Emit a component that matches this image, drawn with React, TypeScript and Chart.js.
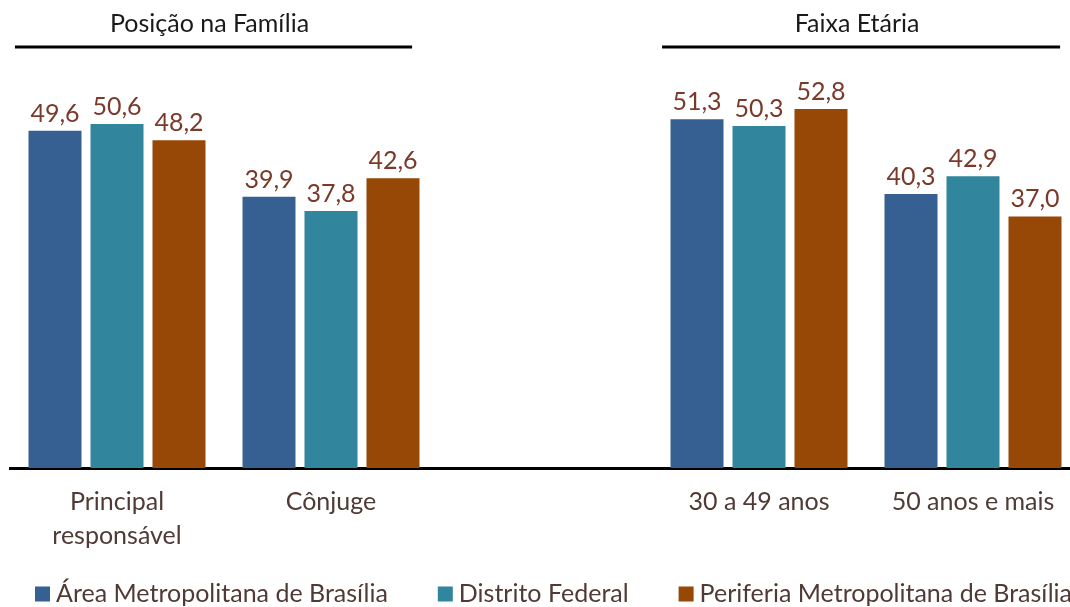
import React, { useEffect, useRef } from "react";
import { Chart, registerables } from "chart.js";

Chart.register(...registerables);

const categories: (string | string[])[] = [
  ["Principal", "responsável"],
  "Cônjuge",
  "",
  "30 a 49 anos",
  "50 anos e mais",
];
const seriesNames = [
  "Área Metropolitana de Brasília",
  "Distrito Federal",
  "Periferia Metropolitana de Brasília",
];
const areaMetropolitana = [49.6, 39.9, null, 51.3, 40.3];
const distritoFederal = [50.6, 37.8, null, 50.3, 42.9];
const periferia = [48.2, 42.6, null, 52.8, 37.0];
const groupTitles = ["Posição na Família", "Faixa Etária"];
const groupRanges = [
  [0, 1],
  [3, 4],
];

const colors = ["#366092", "#31859C", "#974706"];
const FONT = "Lato, 'Open Sans', sans-serif";
const TEXT = "#503a35";

const labelPlugin = {
  id: "valueLabels",
  afterDatasetsDraw(chart: any) {
    const ctx = chart.ctx;
    ctx.save();
    ctx.font = `25px ${FONT}`;
    ctx.fillStyle = "#7a3a2a";
    ctx.textAlign = "center";
    ctx.textBaseline = "alphabetic";
    chart.data.datasets.forEach((ds: any, di: number) => {
      const meta = chart.getDatasetMeta(di);
      meta.data.forEach((el: any, i: number) => {
        const v = ds.data[i];
        if (v === null || v === undefined) return;
        ctx.fillText(v.toFixed(1).replace(".", ","), el.x, el.y - 9);
      });
    });
    ctx.restore();
  },
};

const headerPlugin = {
  id: "groupHeaders",
  afterDraw(chart: any) {
    const ctx = chart.ctx;
    const x = chart.scales.x;
    const w = x.getPixelForValue(1) - x.getPixelForValue(0);
    const insets = [
      [-0.477, 0.379],
      [-0.453, 0.407],
    ];
    ctx.save();
    groupRanges.forEach((r, gi) => {
      const x0 = x.getPixelForValue(r[0]) + insets[gi][0] * w;
      const x1 = x.getPixelForValue(r[1]) + insets[gi][1] * w;
      ctx.strokeStyle = "#000";
      ctx.lineWidth = 3;
      ctx.beginPath();
      ctx.moveTo(x0, 47);
      ctx.lineTo(x1, 47);
      ctx.stroke();
      ctx.font = `25px ${FONT}`;
      ctx.fillStyle = "#1a1a1a";
      ctx.textAlign = "center";
      ctx.textBaseline = "middle";
      ctx.fillText(groupTitles[gi], (x0 + x1) / 2 - 4, 24);
    });
    ctx.restore();
  },
};

const legendPlugin = {
  id: "customLegend",
  afterDraw(chart: any) {
    const ctx = chart.ctx;
    ctx.save();
    ctx.font = `25px ${FONT}`;
    ctx.textBaseline = "middle";
    ctx.textAlign = "left";
    const cy = 594;
    const box = 15;
    let x = 35;
    chart.data.datasets.forEach((ds: any) => {
      ctx.fillStyle = ds.backgroundColor;
      ctx.fillRect(x, cy - box / 2, box, box);
      x += box + 6;
      ctx.fillStyle = TEXT;
      ctx.fillText(ds.label, x, cy);
      x += ctx.measureText(ds.label).width + 50;
    });
    ctx.restore();
  },
};

export default function App() {
  const ref = useRef<HTMLCanvasElement>(null);
  useEffect(() => {
    if (!ref.current) return;
    const data = [areaMetropolitana, distritoFederal, periferia];
    const chart = new Chart(ref.current, {
      type: "bar",
      data: {
        labels: categories,
        datasets: seriesNames.map((name, i) => ({
          label: name,
          data: data[i],
          backgroundColor: colors[i],
          barPercentage: 0.855,
          categoryPercentage: 0.869,
        })),
      },
      options: {
        responsive: false,
        animation: false,
        layout: { padding: { left: 10, right: 10, top: 60, bottom: 37 } },
        plugins: {
          legend: { display: false },
          tooltip: { enabled: false },
        },
        scales: {
          x: {
            grid: { display: false, drawTicks: false },
            border: { display: true, color: "#000", width: 3 },
            ticks: {
              padding: 17,
              color: TEXT,
              font: { family: FONT, size: 25, lineHeight: 1.36 },
              maxRotation: 0,
              autoSkip: false,
            },
          },
          y: {
            display: false,
            min: 0,
            max: 60,
          },
        },
      },
      plugins: [labelPlugin, headerPlugin, legendPlugin],
    });
    return () => chart.destroy();
  }, []);
  return (
    <div
      style={{
        position: "absolute",
        left: 0,
        top: 0,
        width: 1070,
        height: 607,
        overflow: "hidden",
        background: "#fff",
      }}
    >
      <canvas ref={ref} width={1090} height={607} />
    </div>
  );
}
